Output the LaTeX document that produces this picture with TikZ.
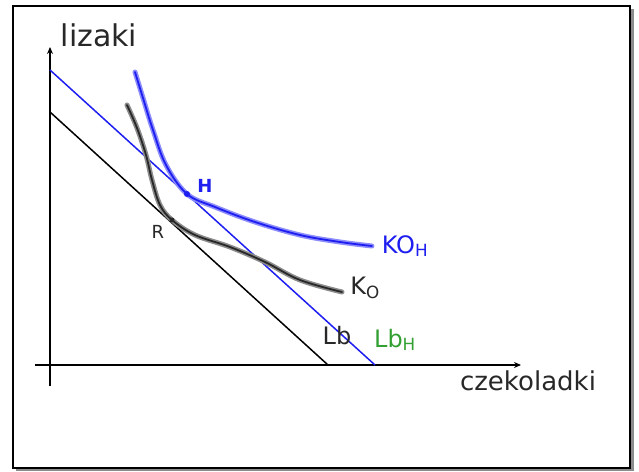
\documentclass[tikz,border=0pt]{standalone}
\usepackage{fontspec}
\setmainfont{DejaVu Sans}
\usetikzlibrary{arrows.meta}
\definecolor{myblue}{RGB}{30,30,240}
\definecolor{glowblue}{RGB}{140,140,250}
\definecolor{mygreen}{RGB}{50,160,50}
\definecolor{ink}{RGB}{40,40,40}
\tikzset{
  axis/.style={line width=1.5pt,-{Stealth[length=7pt,width=6pt]}},
  budget/.style={line width=1.5pt},
  lbl/.style={font=\fontsize{24}{26}\selectfont, inner sep=0pt},
  glowB/.style={glowblue, line width=5pt, line cap=round, line join=round},
  coreB/.style={myblue, line width=1.8pt, line cap=round, line join=round},
  glowK/.style={black!45, line width=5pt, line cap=round, line join=round},
  coreK/.style={ink, line width=1.8pt, line cap=round, line join=round}
}
\begin{document}
\begin{tikzpicture}[x=1pt,y=-1pt]
\useasboundingbox (0,0) rectangle (639,471);
% frame with shadow
\fill[black!45] (16,9) rectangle (634,471);
\fill[white] (13,6) rectangle (630,468);
\draw[line width=1.6pt] (13,6) rectangle (630,468);
% axes
\coordinate (yb) at (50,386);
\coordinate (yt) at (50,47);
\coordinate (xl) at (35,365);
\coordinate (xr) at (521,365);
\draw[axis] (yb) -- (yt);
\draw[axis] (xl) -- (xr);
% budget lines
\coordinate (b1) at (50,112);
\coordinate (b2) at (328,365);
\coordinate (h1) at (50,70);
\coordinate (h2) at (375,365);
\draw[budget] (b1) -- (b2);
\draw[budget, myblue] (h1) -- (h2);
% indifference curve K0
\draw[glowK] plot[smooth, tension=0.6] coordinates {(127,105) (137,128) (146,155) (152,180) (160,205) (172,220) (195,235) (230,247) (265,262) (300,280) (342,292)};
\draw[coreK] plot[smooth, tension=0.6] coordinates {(127,105) (137,128) (146,155) (152,180) (160,205) (172,220) (195,235) (230,247) (265,262) (300,280) (342,292)};
% indifference curve KO_H
\draw[glowB] plot[smooth, tension=0.6] coordinates {(135,72) (143,98) (153,130) (166,165) (187,194) (215,207) (255,222) (300,235) (340,242) (372,246)};
\draw[coreB] plot[smooth, tension=0.6] coordinates {(135,72) (143,98) (153,130) (166,165) (187,194) (215,207) (255,222) (300,235) (340,242) (372,246)};
% points
\fill[myblue] (187,194) circle (3pt);
\fill[ink] (172,220) circle (2.5pt);
% labels
\node[lbl, ink, font=\fontsize{30}{32}\selectfont] (ly) at (99,35) {lizaki};
\node[lbl, ink, font=\fontsize{26}{28}\selectfont] (lx) at (528,381) {czekoladki};
\node[lbl, myblue, font=\fontsize{18}{20}\selectfont\bfseries] (lH) at (205,186) {H};
\node[lbl, ink, font=\fontsize{18}{20}\selectfont] (lR) at (158,232) {R};
\node[lbl, myblue] (lKOH) at (405,246) {KO\textsubscript{H}};
\node[lbl, ink] (lK0) at (365,288) {K\textsubscript{O}};
\node[lbl, ink] (lLb) at (337,336) {Lb};
\node[lbl, mygreen] (lLbH) at (395,340) {Lb\textsubscript{H}};
\end{tikzpicture}
\end{document}
